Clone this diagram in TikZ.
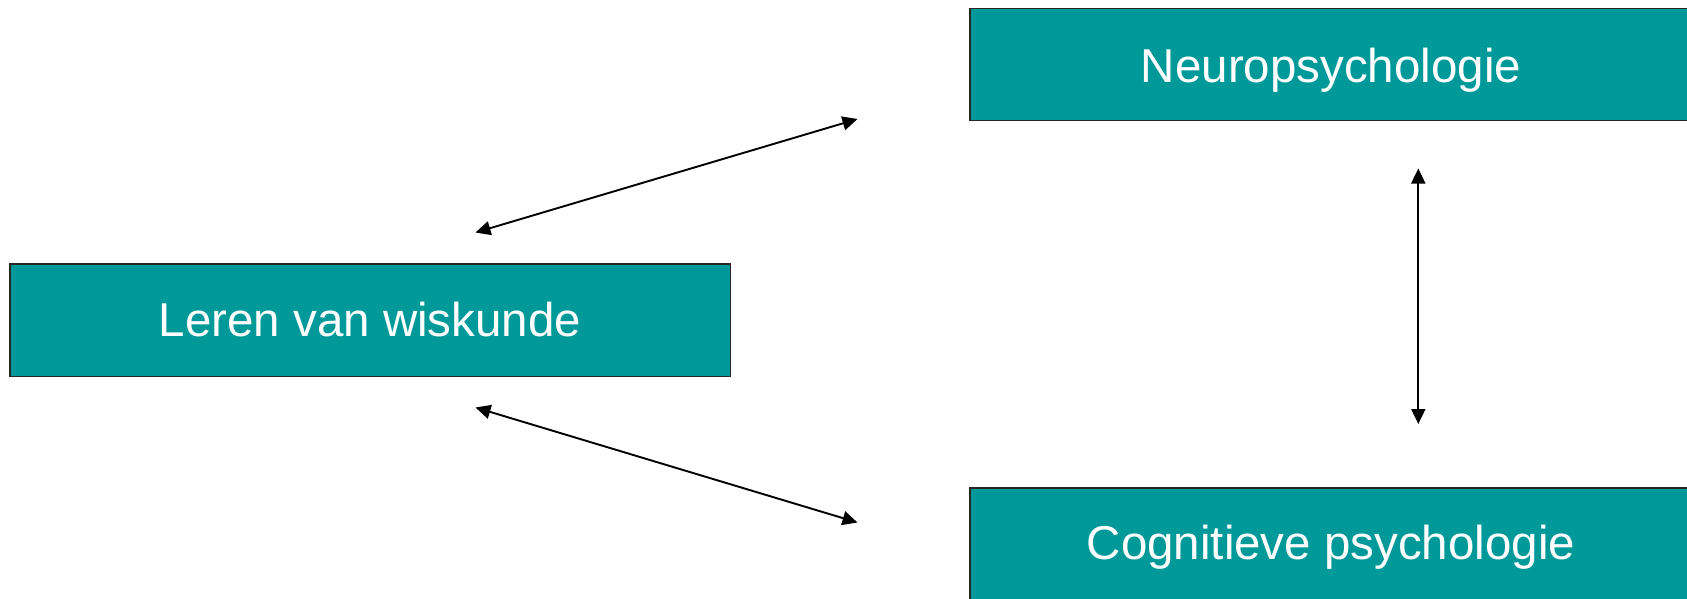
\documentclass[tikz,border=0pt]{standalone}
\usepackage{fontspec}
\setmainfont{Liberation Sans}
\usetikzlibrary{arrows.meta}
\definecolor{teal1}{HTML}{009999}
\tikzset{
  boxfill/.style={fill=teal1, draw=black!85, line width=1.7pt},
  lbl/.style={text=white, font=\fontsize{47.5}{54}\selectfont, inner sep=0pt, anchor=base},
  conn/.style={line width=1.9pt, {Triangle[length=15pt,width=14pt]}-{Triangle[length=15pt,width=14pt]}}
}
\begin{document}
\begin{tikzpicture}[x=1pt,y=-1pt]
\path[use as bounding box] (0,0) rectangle (1687,598);
\clip (0,0) rectangle (1687,598);
\fill[white] (0,0) rectangle (1687,598);
% boxes
\draw[boxfill] (10,264) rectangle (730.5,376.6);
\node[lbl] (leren) at (370,336) {Leren van wiskunde};
\draw[boxfill] (970,8.6) rectangle (1720,120.5);
\node[lbl] (neuro) at (1331,82) {Neuropsychologie};
\draw[boxfill] (970,488) rectangle (1720,640);
\node[lbl] (cogn) at (1331,559) {Cognitieve psychologie};
% arrow endpoints
\coordinate (a1) at (475.5,232.5);
\coordinate (b1) at (857.5,119);
\coordinate (a2) at (475.5,407.5);
\coordinate (b2) at (857.5,522.5);
\coordinate (v1) at (1418.3,168.5);
\coordinate (v2) at (1418.3,424);
\draw[conn] (a1) -- (b1);
\draw[conn] (a2) -- (b2);
\draw[conn] (v1) -- (v2);
\end{tikzpicture}
\end{document}
